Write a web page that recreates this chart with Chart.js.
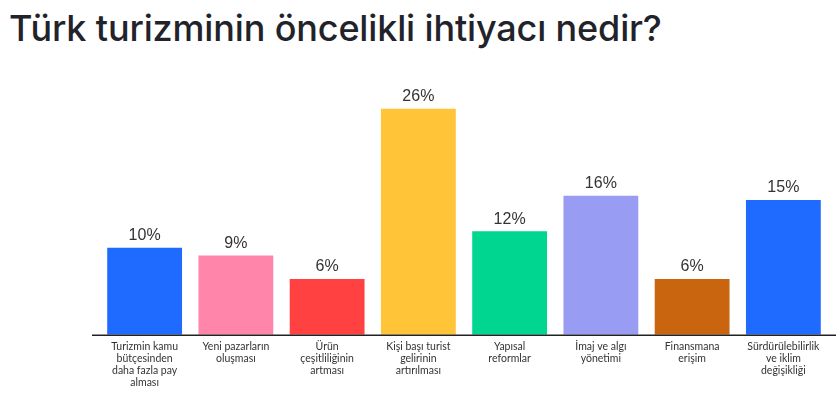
<!DOCTYPE html>
<html>
<head>
<meta charset="utf-8">
<script src="https://cdn.jsdelivr.net/npm/chart.js@4"></script>
<style>
  html, body { margin: 0; padding: 0; background: #fff; }
  #wrap { position: relative; width: 836px; height: 395px; }
  #title {
    position: absolute; left: 9px; top: 6px;
    font-family: Inter, "Noto Sans", sans-serif; font-weight: 500;
    font-size: 36px; color: #22232a; letter-spacing: -0.15px; white-space: nowrap;
  }
  canvas { position: absolute; left: 0; top: 0; }
</style>
</head>
<body>
<div id="wrap">
  <div id="title">Türk turizminin öncelikli ihtiyacı nedir?</div>
  <canvas id="needsChart" width="836" height="395"></canvas>
</div>
<script>
const categories = [
    ['Turizmin kamu', 'bütçesinden', 'daha fazla pay', 'alması'],
    ['Yeni pazarların', 'oluşması'],
    ['Ürün', 'çeşitliliğinin', 'artması'],
    ['Kişi başı turist', 'gelirinin', 'artırılması'],
    ['Yapısal', 'reformlar'],
    ['İmaj ve algı', 'yönetimi'],
    ['Finansmana', 'erişim'],
    ['Sürdürülebilirlik', 've iklim', 'değişikliği']
];
// bar yükseklikleri, etiketler yuvarlanmış haliyle
const shares = [10, 9.1, 6.4, 26, 11.9, 16, 6.4, 15.5];
const shareLabels = ['10%', '9%', '6%', '26%', '12%', '16%', '6%', '15%'];
const barColors = ['#1f6bff', '#ff85ab', '#ff4141', '#ffc437', '#00d690', '#999cf3', '#c9650f', '#1f6bff'];

// etiketleri barların üstüne yaz
const valueLabels = {
    id: 'valueLabels',
    afterDatasetsDraw(chart) {
        const ctx = chart.ctx;
        const meta = chart.getDatasetMeta(0);
        ctx.save();
        ctx.font = '16px "Liberation Sans", Arial, sans-serif';
        ctx.fillStyle = '#333';
        ctx.textAlign = 'center';
        ctx.textBaseline = 'bottom';
        meta.data.forEach((bar, i) => {
            ctx.fillText(shareLabels[i], bar.x, bar.y - 4);
        });
        ctx.restore();
    }
};

// taban çizgisi biraz daha geniş
const baseLine = {
    id: 'baseLine',
    afterDatasetsDraw(chart) {
        const ctx = chart.ctx;
        const y = chart.scales.y.getPixelForValue(0);
        ctx.save();
        ctx.strokeStyle = '#222';
        ctx.lineWidth = 1.5;
        ctx.beginPath();
        ctx.moveTo(92, y + 0.5);
        ctx.lineTo(836, y + 0.5);
        ctx.stroke();
        ctx.restore();
    }
};

const ctx = document.getElementById('needsChart').getContext('2d');
new Chart(ctx, {
    type: 'bar',
    data: {
        labels: categories,
        datasets: [{
            data: shares,
            backgroundColor: barColors,
            barPercentage: 0.82,
            categoryPercentage: 1.0
        }]
    },
    options: {
        responsive: false,
        animation: false,
        layout: { padding: { left: 99, right: 7, top: 74, bottom: 0 } },
        plugins: {
            legend: { display: false },
            tooltip: { enabled: false }
        },
        scales: {
            x: {
                grid: { display: false, drawTicks: false },
                border: { display: false },
                ticks: {
                    autoSkip: false,
                    maxRotation: 0,
                    padding: 6,
                    color: '#333',
                    font: { family: 'Lato, "Noto Sans", sans-serif', size: 10.5, lineHeight: 1.15 }
                }
            },
            y: {
                display: false,
                min: 0,
                max: 30
            }
        }
    },
    plugins: [valueLabels, baseLine]
});
</script>
</body>
</html>
